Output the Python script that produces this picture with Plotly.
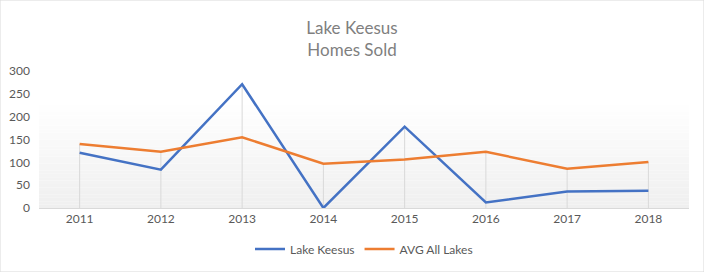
import plotly.graph_objects as go

years = ["2011", "2012", "2013", "2014", "2015", "2016", "2017", "2018"]
lake_keesus = [121, 84, 271, 0, 178, 12, 36, 38]
avg_all_lakes = [140, 123, 155, 97, 106, 123, 86, 101]
y_ticks = [0, 50, 100, 150, 200, 250, 300]

FONT = "Lato"
fig = go.Figure()

# drop lines from the higher series down to the axis
dx, dy = [], []
for yr, a, b in zip(years, lake_keesus, avg_all_lakes):
    dx += [yr, yr, None]
    dy += [0, max(a, b), None]
fig.add_trace(go.Scatter(x=dx, y=dy, mode="lines", line=dict(color="#d9d9d9", width=1),
                         showlegend=False, hoverinfo="skip"))

fig.add_trace(go.Scatter(x=years, y=lake_keesus, mode="lines", name="Lake Keesus",
                         line=dict(color="#4472C4", width=2.5)))
fig.add_trace(go.Scatter(x=years, y=avg_all_lakes, mode="lines", name="AVG All Lakes",
                         line=dict(color="#ED7D31", width=2.5)))

# gradient plot background
shapes = []
n = 40
for i in range(n):
    t = i / n
    frac = min(1.0, t / 0.75)
    c = int(round(239 + (255 - 239) * frac))
    shapes.append(dict(type="rect", xref="x domain", yref="y domain",
                       x0=0, x1=1, y0=t, y1=(i + 1) / n,
                       fillcolor=f"rgb({c},{c},{c})", line=dict(width=0), layer="below"))
# outer border
shapes.append(dict(type="rect", xref="paper", yref="paper", x0=-39/650, x1=1 + 15/650,
                   y0=-64/137, y1=1 + 71/137,
                   line=dict(color="#d9d9d9", width=1), layer="below"))

fig.update_layout(
    width=704, height=272,
    margin=dict(l=39, r=15, t=71, b=64, autoexpand=False),
    paper_bgcolor="white", plot_bgcolor="white",
    title=dict(text="Lake Keesus<br>Homes Sold", x=0.5, xanchor="center",
               yref="container", y=1 - 34 / 272, yanchor="middle",
               font=dict(family=FONT, size=17, color="#7f7f7f")),
    font=dict(family=FONT, size=12, color="#595959"),
    xaxis=dict(type="category", range=[-0.5, 7.5], showgrid=False, zeroline=False,
               showline=True, linecolor="#d9d9d9", linewidth=1, ticks="",
               tickfont=dict(family=FONT, size=12, color="#595959")),
    yaxis=dict(range=[0, 300], tickvals=y_ticks, showgrid=False, zeroline=False,
               showline=False, ticks="", ticklabelstandoff=8,
               tickfont=dict(family=FONT, size=12, color="#595959")),
    legend=dict(orientation="h", x=0.5, xanchor="center", yref="container",
                y=(272 - 249) / 272, yanchor="middle",
                font=dict(family=FONT, size=12, color="#595959"), itemwidth=30,
                bgcolor="rgba(0,0,0,0)"),
    showlegend=True,
    shapes=shapes,
)
fig.write_html("out.html")
